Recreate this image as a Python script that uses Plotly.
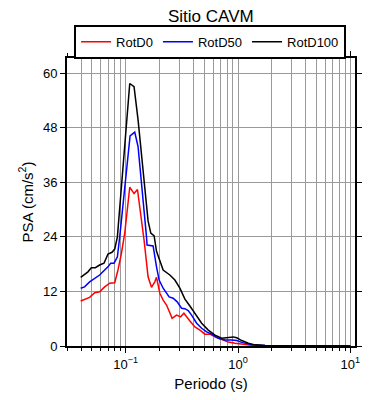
import plotly.graph_objects as go

# RotD100 (black)
t_d100 = [0.0397, 0.0430, 0.0461, 0.0494, 0.0536, 0.0586, 0.0640, 0.0695, 0.0755, 0.0798,
          0.0843, 0.1086, 0.1186, 0.1288, 0.1427, 0.1581, 0.1672, 0.1790, 0.1880, 0.2012,
          0.2154, 0.2471, 0.2739, 0.3035, 0.3365, 0.3727, 0.4131, 0.4742, 0.5432, 0.6233,
          0.7147, 0.8192, 0.9078, 0.9736, 1.079, 1.236, 1.418, 1.743, 2.5, 4.0, 10.0]
v_d100 = [15.1, 15.8, 16.3, 17.2, 17.2, 17.8, 18.2, 20.2, 20.6, 21.3,
          24.0, 57.7, 57.0, 49.7, 38.7, 27.5, 24.8, 24.2, 20.8, 18.9,
          16.7, 15.6, 14.5, 12.7, 10.3, 8.8, 7.1, 5.0, 3.5, 2.4,
          1.7, 1.8, 2.0, 1.8, 1.2, 0.6, 0.25, 0.1, 0.05, 0.03, 0.02]

# RotD50 (blue)
t_d50 = [0.0397, 0.0430, 0.0477, 0.0536, 0.0586, 0.0649, 0.0695, 0.0734, 0.0787, 0.0843,
         0.0884, 0.1093, 0.1203, 0.1288, 0.1427, 0.1531, 0.1549, 0.1753, 0.1880, 0.1983,
         0.2154, 0.2436, 0.2644, 0.2872, 0.3142, 0.3365, 0.3600, 0.3860, 0.4279, 0.4742,
         0.5256, 0.5821, 0.6669, 0.7654, 0.8784, 0.9736, 1.079, 1.326, 1.743, 2.5, 4.0, 10.0]
v_d50 = [12.7, 13.0, 14.1, 15.0, 15.6, 16.7, 17.4, 18.2, 18.2, 19.6,
         24.0, 46.2, 47.0, 43.8, 32.8, 24.0, 22.2, 22.0, 17.4, 14.5,
         12.7, 10.8, 10.5, 9.7, 8.3, 8.2, 7.8, 6.8, 5.0, 3.9,
         3.1, 2.6, 1.7, 1.3, 1.3, 1.2, 0.8, 0.25, 0.1, 0.05, 0.03, 0.02]

# RotD0 (red)
t_d0 = [0.0397, 0.0430, 0.0477, 0.0529, 0.0586, 0.0649, 0.0720, 0.0798, 0.0853, 0.0916,
        0.0980, 0.1086, 0.1186, 0.1272, 0.1362, 0.1456, 0.1581, 0.1695, 0.1815, 0.1880,
        0.2012, 0.2154, 0.2309, 0.2471, 0.2590, 0.2836, 0.3078, 0.3297, 0.3483, 0.3727,
        0.4131, 0.4580, 0.5075, 0.5623, 0.6233, 0.7147, 0.8192, 0.9401, 1.079, 1.326,
        1.743, 2.5, 4.0, 10.0]
v_d0 = [9.9, 10.2, 10.7, 11.7, 11.9, 13.0, 13.8, 13.9, 16.7, 20.4,
        24.8, 34.9, 33.5, 34.4, 29.2, 23.3, 15.2, 12.9, 14.1, 15.1,
        11.6, 10.1, 9.0, 7.2, 6.1, 6.8, 6.4, 7.2, 6.4, 5.5,
        4.2, 3.5, 2.6, 2.6, 2.0, 1.5, 0.9, 0.6, 0.4, 0.15,
        0.08, 0.04, 0.02, 0.01]

x_major = [0.1, 1, 10]
x_labels = ["10<sup>−1</sup>", "10<sup>0</sup>", "10<sup>1</sup>"]
x_minor = [m * 10 ** e for e in (-2, -1, 0, 1) for m in range(2, 10)
           if 0.03 <= m * 10 ** e <= 11]
y_ticks = [0, 12, 24, 36, 48, 60]

FONT = "Liberation Sans, Arial, Helvetica, sans-serif"

fig = go.Figure()
fig.add_trace(go.Scatter(x=t_d0, y=v_d0, mode="lines", name="RotD0",
                         line=dict(color="#ff0000", width=1.5)))
fig.add_trace(go.Scatter(x=t_d50, y=v_d50, mode="lines", name="RotD50",
                         line=dict(color="#0000ff", width=1.5)))
fig.add_trace(go.Scatter(x=t_d100, y=v_d100, mode="lines", name="RotD100",
                         line=dict(color="#000000", width=1.5)))

# the page body has an 8px default margin, so the figure is sized to fit in the window
fig.update_layout(
    width=382, height=392,
    margin=dict(l=59, r=35, t=50, b=54, autoexpand=False),
    paper_bgcolor="white", plot_bgcolor="white",
    font=dict(family=FONT, size=13, color="black"),
    title=dict(text="Sitio CAVM", x=0.531, xref="container", xanchor="center",
               y=0.994, yref="container", yanchor="top", pad=dict(t=0, b=0),
               font=dict(size=17, family=FONT, color="black")),
    showlegend=True,
    legend=dict(orientation="h", x=0.529, xanchor="center", y=0.914, yanchor="middle",
                xref="container", yref="container",
                bordercolor="black", borderwidth=2, bgcolor="white",
                font=dict(size=13, family=FONT), itemwidth=30,
                tracegroupgap=0),
    xaxis=dict(type="log", range=[-1.5229, 1.0414], automargin=False,
               tickmode="array", tickvals=x_major, ticktext=x_labels,
               ticks="outside", ticklen=5, tickcolor="black", tickwidth=1,
               showgrid=True, gridcolor="#9a9a9a", gridwidth=1,
               minor=dict(tickmode="array", tickvals=x_minor, ticks="outside",
                          ticklen=3, tickcolor="black", showgrid=True,
                          gridcolor="#9a9a9a", gridwidth=1),
               showline=True, linecolor="black", linewidth=2, mirror="ticks",
               zeroline=False,
               tickfont=dict(size=13, family=FONT),
               title=dict(text="Periodo (s)", font=dict(size=15, family=FONT), standoff=8)),
    yaxis=dict(range=[0, 63.3], tickmode="array", tickvals=y_ticks, automargin=False,
               ticks="outside", ticklen=5, tickcolor="black",
               showgrid=True, gridcolor="#9a9a9a", gridwidth=1,
               showline=True, linecolor="black", linewidth=2, mirror="ticks",
               zeroline=False,
               tickfont=dict(size=13, family=FONT),
               title=dict(text="PSA (cm/s<sup>2</sup>)", font=dict(size=15, family=FONT),
                          standoff=6)),
)

fig.write_html("out.html")
